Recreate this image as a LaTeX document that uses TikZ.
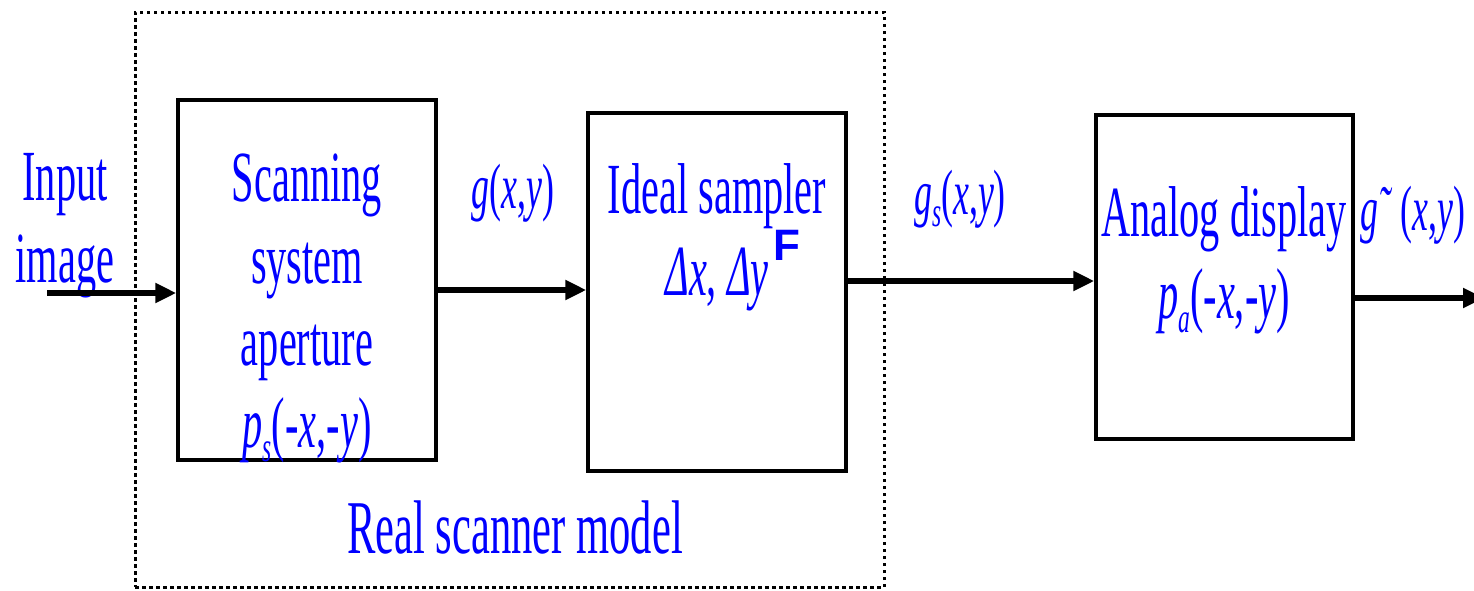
\documentclass[tikz,border=0pt]{standalone}
\usepackage{fontspec}
\setmainfont{Liberation Serif}[FakeStretch=0.56]
\newfontfamily\markfont{Liberation Sans}
\usetikzlibrary{positioning, arrows.meta}
\definecolor{ink}{RGB}{0,0,255}
\newcommand{\lowidx}[1]{\raisebox{-0.2em}{\fontsize{42}{42}\selectfont #1}}

\begin{document}
\begin{tikzpicture}[x=1pt, y=-1pt,
  blk/.style={draw, line width=3.5pt, inner sep=0pt},
  frame/.style={draw, line width=3pt, dash pattern=on 3.5pt off 3.5pt, inner sep=0pt},
  txt/.style={text=ink, font=\fontsize{72}{82}\selectfont, align=center, inner sep=0pt, anchor=base},
  sig/.style={txt, font=\fontsize{64}{70}\selectfont},
  arr/.style={-{Triangle[length=21pt, width=19pt]}, line width=5.5pt},
  >={Stealth}]
\useasboundingbox (0,0) rectangle (1474,590);
% blocks
\node[frame, minimum width=749pt, minimum height=575pt] (scanner) at (509.5,299.5) {};
\node[blk, minimum width=258pt, minimum height=360pt] (scan) at (307,280) {};
\node[blk, minimum width=258pt, minimum height=358pt] (samp) at (717,292) {};
\node[blk, minimum width=257pt, minimum height=324pt] (disp) at (1224.5,277) {};
% texts (base = last line)
\node[txt] (inlbl) at (65,282) {Input\\image};
\node[txt] (scanlbl) at (307,447) {Scanning\\system\\aperture\\\textit{p}\lowidx{\textit{s}}(-\textit{x},-\textit{y})};
\node[sig] (glbl) at (513,208) {\textit{g}(\textit{x},\textit{y})};
\node[txt] (samplbl) at (717,295) {Ideal sampler\\\textit{Δx}, \textit{Δy}};
\node[txt, font=\markfont\bfseries\fontsize{44}{44}\selectfont] (mark) at (787,260) {F};
\node[sig] (gslbl) at (960,214) {\textit{g}\lowidx{\textit{s}}(\textit{x},\textit{y})};
\node[txt] (displbl) at (1224,318) {Analog display\\\textit{p}\lowidx{\textit{a}}(-\textit{x},-\textit{y})};
\node[sig] (outlbl) at (1413,230) {\textit{g˜\,}(\textit{x},\textit{y})};
\node[txt, font=\fontsize{76}{82}\selectfont] (model) at (515,553) {Real scanner model};
% connectors
\coordinate (src) at (47,293);
\coordinate (dst) at (1484,298);
\draw[arr] (src) -- (src -| scan.west);
\draw[arr] (scan.east |- 0,290) -- (samp.west |- 0,290);
\draw[arr] (samp.east |- 0,281) -- (disp.west |- 0,281);
\draw[arr] (disp.east |- dst) -- (dst);
\end{tikzpicture}
\end{document}
